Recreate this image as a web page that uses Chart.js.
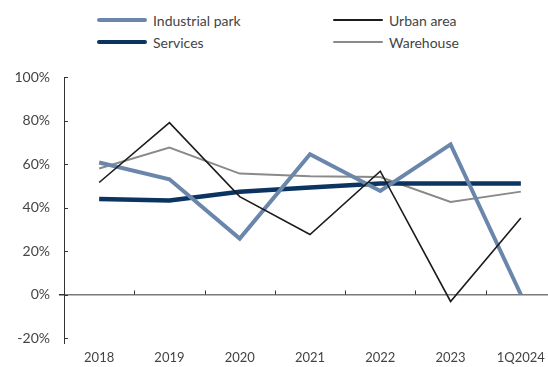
<!DOCTYPE html>
<html>
<head>
<meta charset="utf-8">
<script src="https://cdn.jsdelivr.net/npm/chart.js@4/dist/chart.umd.min.js"></script>
<style>
  html, body { margin: 0; padding: 0; background: #fff; overflow: hidden; }
  body { width: 548px; height: 367px; position: relative; font-family: Lato, "Open Sans", sans-serif; }
  #wrap { position: absolute; left: 0; top: 0; width: 556px; height: 367px; }
  .legend { position: absolute; font-size: 14px; color: #444; }
  .legend .item { position: absolute; display: flex; align-items: center; white-space: nowrap; }
  .legend .swatch { width: 50px; margin-right: 6px; border-radius: 2px; }
</style>
</head>
<body>
<div class="legend" id="legend"></div>
<div id="wrap"><canvas id="chart" width="556" height="367"></canvas></div>
<script>
// ---- data ----
const years = ["2018", "2019", "2020", "2021", "2022", "2023", "1Q2024"];
const industrialPark = [60.7, 53, 25.7, 64.5, 47.6, 69, 0];
const urbanArea      = [51.5, 79, 45, 27.6, 56.7, -3.2, 35.2];
const services       = [43.9, 43.2, 47.2, 49.2, 51, 51, 51];
const warehouse      = [57.9, 67.6, 55.6, 54.4, 54, 42.5, 47.3];

const series = [
  { label: "Industrial park", data: industrialPark, color: "#6a87ab", width: 4,   order: 2, lx: 97,  ly: 20 },
  { label: "Urban area",      data: urbanArea,      color: "#1c1c1c", width: 1.6, order: 1, lx: 333, ly: 20 },
  { label: "Services",        data: services,       color: "#0b3461", width: 4.5, order: 3, lx: 97,  ly: 42 },
  { label: "Warehouse",       data: warehouse,      color: "#8a8a8a", width: 2,   order: 4, lx: 333, ly: 42 }
];

// ---- legend (html, two columns) ----
const legend = document.getElementById("legend");
series.forEach(s => {
  const it = document.createElement("div");
  it.className = "item";
  it.style.left = s.lx + "px";
  it.style.top = (s.ly - 10) + "px";
  it.style.height = "20px";
  it.innerHTML = `<span class="swatch" style="height:${Math.max(2, Math.round(s.width - 0.5))}px;background:${s.color}"></span><span>${s.label}</span>`;
  legend.appendChild(it);
});

// ---- extra ticks: x ticks between categories, y ticks inside the axis ----
const axisTicks = {
  id: "axisTicks",
  afterDraw(chart) {
    const { ctx, scales: { x, y } } = chart;
    const y0 = y.getPixelForValue(0);
    ctx.save();
    ctx.strokeStyle = "#333";
    ctx.lineWidth = 1;
    ctx.beginPath();
    for (let i = 1; i < years.length; i++) {
      const px = Math.round((x.getPixelForValue(i - 1) + x.getPixelForValue(i)) / 2) + 0.5;
      ctx.moveTo(px, y0 - 4);
      ctx.lineTo(px, y0);
    }
    y.ticks.forEach(t => {
      const py = Math.round(y.getPixelForValue(t.value)) + 0.5;
      ctx.moveTo(x.left, py);
      ctx.lineTo(x.left + 4, py);
    });
    // axis runs a little below the last tick
    ctx.moveTo(x.left + 0.5, y.bottom);
    ctx.lineTo(x.left + 0.5, y.bottom + 6);
    ctx.stroke();
    ctx.restore();
  }
};

new Chart(document.getElementById("chart"), {
  type: "line",
  data: {
    labels: years,
    datasets: series.map(s => ({
      label: s.label,
      data: s.data,
      borderColor: s.color,
      backgroundColor: s.color,
      borderWidth: s.width,
      pointRadius: 0,
      tension: 0,
      order: s.order,
      borderJoinStyle: "miter"
    }))
  },
  options: {
    responsive: false,
    animation: false,
    layout: { padding: { top: 77, right: 0, left: 0, bottom: 0 } },
    plugins: { legend: { display: false }, tooltip: { enabled: false } },
    scales: {
      x: {
        offset: true,
        grid: { display: false },
        border: { display: false },
        ticks: { color: "#444", font: { family: "Lato", size: 13 }, padding: 4, maxRotation: 0 },
        afterFit: s => { s.height = 29; }
      },
      y: {
        min: -20, max: 100,
        ticks: { stepSize: 20, color: "#444", font: { family: "Lato", size: 14 }, padding: 9,
                 callback: v => v + "%" },
        grid: {
          drawOnChartArea: true,
          color: c => (c.tick && c.tick.value === 0 ? "#7a7a7a" : "rgba(0,0,0,0)"),
          lineWidth: c => (c.tick && c.tick.value === 0 ? 1.5 : 0),
          tickColor: "#333",
          tickLength: 5
        },
        border: { color: "#333", width: 1 },
        afterFit: s => { s.width = 64; }
      }
    }
  },
  plugins: [axisTicks]
});
</script>
</body>
</html>
